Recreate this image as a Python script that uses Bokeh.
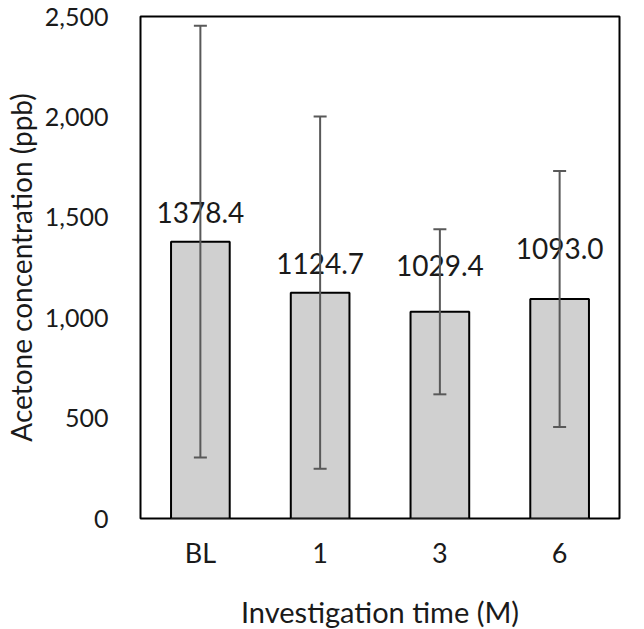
from bokeh.plotting import figure
from bokeh.models import ColumnDataSource, Range1d, FactorRange, Whisker, NumeralTickFormatter, FixedTicker, TeeHead
from bokeh.core.properties import value
from bokeh.embed import file_html
from bokeh.resources import INLINE

categories = ["BL", "1", "3", "6"]
means = [1378.4, 1124.7, 1029.4, 1093.0]
errors = [1075, 877, 411, 637]
value_labels = ["1378.4", "1124.7", "1029.4", "1093.0"]
y_ticks = [0, 500, 1000, 1500, 2000, 2500]

label_offsets = [-29, -29, -46, -51]

FONT = "Lato"

src = ColumnDataSource(dict(
    cat=categories,
    mean=means,
    upper=[m + e for m, e in zip(means, errors)],
    lower=[m - e for m, e in zip(means, errors)],
    lab=value_labels,
    yoff=label_offsets,
))

p = figure(
    x_range=FactorRange(*categories, range_padding=0),
    y_range=Range1d(0, 2500),
    frame_width=479, frame_height=502,
    min_border_left=132, min_border_right=17, min_border_top=16, min_border_bottom=106,
    output_backend="svg", toolbar_location=None,
)
p.xgrid.grid_line_color = None
p.ygrid.grid_line_color = None
p.outline_line_color = "black"
p.outline_line_width = 2
p.outline_line_alpha = 1
p.background_fill_color = "white"
p.border_fill_color = "white"

p.vbar(x="cat", top="mean", width=0.49, source=src,
       fill_color="#d0d0d0", line_color="black", line_width=2)

w = Whisker(base="cat", upper="upper", lower="lower", source=src,
            line_color="#595959", line_width=2, level="overlay")
w.upper_head = TeeHead(size=13, line_color="#595959", line_width=2)
w.lower_head = TeeHead(size=13, line_color="#595959", line_width=2)
p.add_layout(w)

p.text(x="cat", y="mean", text="lab", y_offset="yoff", source=src,
       text_align="center", text_baseline="middle",
       text_font=value(FONT), text_font_size="28px", text_color="#1a1a1a")

yax = p.yaxis[0]
yax.ticker = FixedTicker(ticks=y_ticks)
yax.formatter = NumeralTickFormatter(format="0,0")
yax.axis_line_color = None
yax.major_tick_line_color = None
yax.minor_tick_line_color = None
yax.major_tick_out = 0
yax.major_tick_in = 0
yax.major_label_standoff = 32
yax.major_label_text_font = FONT
yax.major_label_text_font_size = "25px"
yax.major_label_text_color = "#1a1a1a"
yax.axis_label = "Acetone concentration (ppb)"
yax.axis_label_text_font = FONT
yax.axis_label_text_font_size = "28px"
yax.axis_label_text_font_style = "normal"
yax.axis_label_text_color = "#1a1a1a"
yax.axis_label_standoff = 4

xax = p.xaxis[0]
xax.axis_line_color = None
xax.major_tick_line_color = None
xax.minor_tick_line_color = None
xax.major_tick_out = 0
xax.major_tick_in = 0
xax.major_label_standoff = 17
xax.major_label_text_font = FONT
xax.major_label_text_font_size = "27px"
xax.major_label_text_color = "#1a1a1a"
xax.axis_label = "Investigation time (M)"
xax.axis_label_text_font = FONT
xax.axis_label_text_font_size = "29px"
xax.axis_label_text_font_style = "normal"
xax.axis_label_text_color = "#1a1a1a"
xax.axis_label_standoff = 22

open("out.html", "w").write(file_html(p, INLINE))
